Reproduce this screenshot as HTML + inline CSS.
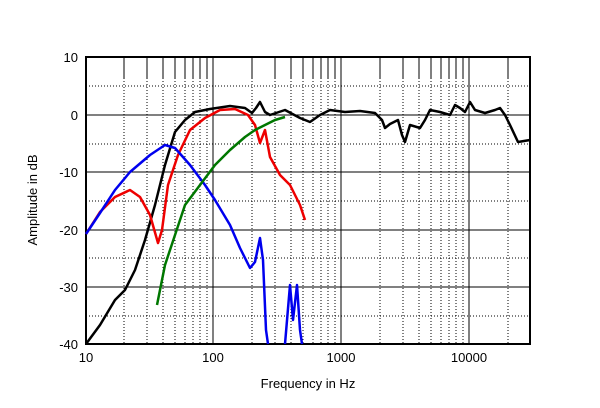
<!DOCTYPE html>
<html><head><style>body{margin:0;background:#fff}svg{display:block}text{font-family:"Liberation Sans",sans-serif;font-size:13px}</style></head><body>
<svg width="600" height="408" viewBox="0 0 600 408">
<g stroke="#000" stroke-width="1" stroke-dasharray="1,2" fill="none">
<path d="M86 86H530M86 144H530M86 201H530M86 258H530M86 316H530"/>
<path d="M124 57V344M147 57V344M163 57V344M175 57V344M185 57V344M193 57V344M200 57V344M207 57V344M252 57V344M275 57V344M291 57V344M303 57V344M313 57V344M321 57V344M328 57V344M335 57V344M380 57V344M403 57V344M419 57V344M431 57V344M441 57V344M449 57V344M456 57V344M463 57V344M508 57V344"/>
</g>
<g stroke="#000" stroke-width="1" fill="none">
<path d="M86 115H530M86 172H530M86 230H530M86 287H530"/>
<path d="M213 57V344M341 57V344M469 57V344"/>
<path d="M124 57V78M147 57V78M163 57V78M175 57V78M185 57V78M193 57V78M200 57V78M207 57V78M252 57V78M275 57V78M291 57V78M303 57V78M313 57V78M321 57V78M328 57V78M335 57V78M380 57V78M403 57V78M419 57V78M431 57V78M441 57V78M449 57V78M456 57V78M463 57V78M508 57V78"/>
</g>
<rect x="86" y="57" width="444" height="287" fill="none" stroke="#000" stroke-width="2"/>
<g fill="none" stroke-width="2.5" stroke-linejoin="round">
<polyline stroke="#000" points="86,344 100,325 115,300 125,290 135,270 145,240 155,205 165,165 175,132 185,120 195,112 210,109 230,106 245,108 252,113 256,108 260,102 265,112 270,115 285,110 300,118 310,122 320,115 330,110 345,112 360,111 375,113 382,120 385,128 390,124 398,120 402,135 405,142 410,125 420,128 425,120 430,110 440,112 450,115 455,105 460,108 465,112 470,102 475,110 485,113 495,110 500,108 505,115 510,125 518,142 530,140"/>
<polyline stroke="#e00" points="86,234 100,212 115,197 130,190 140,197 150,215 158,243 162,230 168,185 178,155 190,130 205,118 220,110 235,109 248,115 255,125 260,143 265,130 270,157 280,175 290,185 300,205 305,220"/>
<polyline stroke="#00e" points="86,234 100,213 115,190 130,172 150,155 165,145 175,148 190,165 205,185 215,200 230,225 240,248 250,268 255,262 260,238 263,260 266,330 268,344"/>
<polyline stroke="#00e" points="285,344 290,285 293,320 297,285 300,330 302,344"/>
<polyline stroke="#070" points="157,305 160,290 165,265 175,235 185,205 200,185 215,165 230,150 245,137 255,130 265,125 275,120 285,117"/>
</g>
<g text-anchor="end">
<text x="78" y="62">10</text><text x="78" y="120">0</text><text x="78" y="177">-10</text><text x="78" y="235">-20</text><text x="78" y="292">-30</text><text x="78" y="349">-40</text>
</g>
<g text-anchor="middle">
<text x="86" y="362">10</text><text x="213" y="362">100</text><text x="341" y="362">1000</text><text x="469" y="362">10000</text>
<text x="308" y="388">Frequency in Hz</text>
<text transform="translate(37,200) rotate(-90)">Amplitude in dB</text>
</g>
</svg></body></html>
